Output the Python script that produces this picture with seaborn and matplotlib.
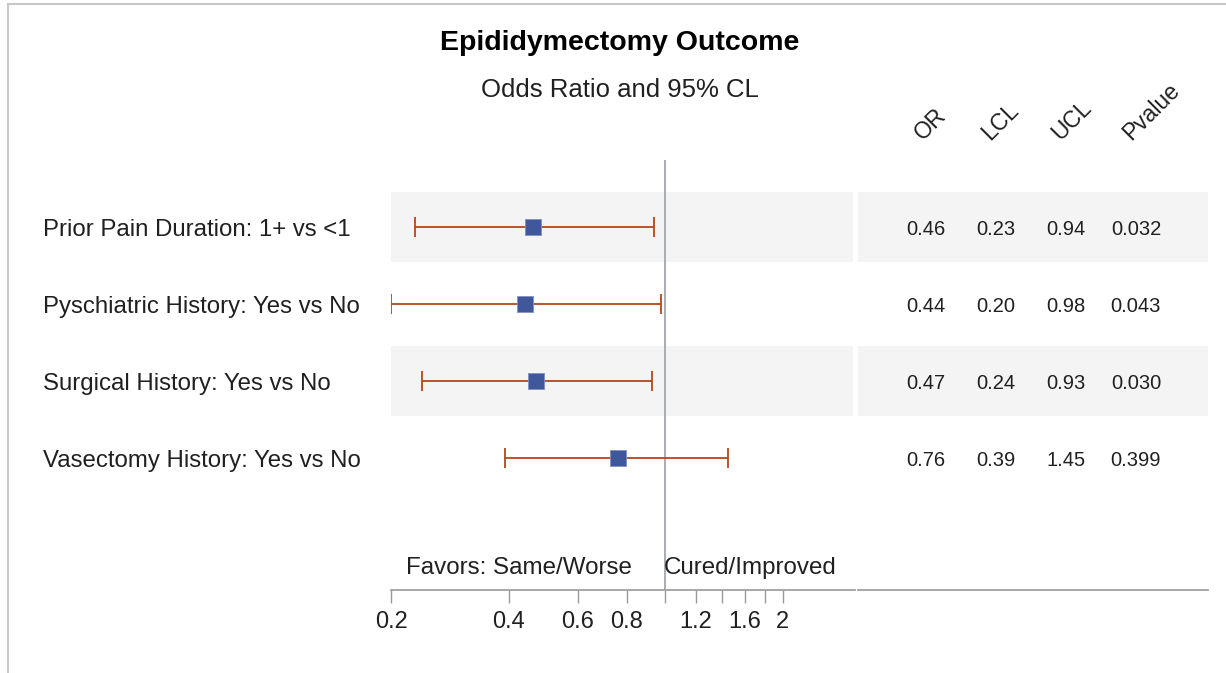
import numpy as np
import pandas as pd
import seaborn as sns
import matplotlib.pyplot as plt
from matplotlib.transforms import blended_transform_factory
from matplotlib.lines import Line2D

# data
labels = ["Prior Pain Duration: 1+ vs <1", "Pyschiatric History: Yes vs No",
          "Surgical History: Yes vs No", "Vasectomy History: Yes vs No"]
odds_ratio = [0.46, 0.44, 0.47, 0.76]
lcl = [0.23, 0.20, 0.24, 0.39]
ucl = [0.94, 0.98, 0.93, 1.45]
pvalue = [0.032, 0.043, 0.030, 0.399]
tick_values = [0.2, 0.4, 0.6, 0.8, 1.0, 1.2, 1.4, 1.6, 1.8, 2.0]
tick_labels = ["0.2", "0.4", "0.6", "0.8", "", "1.2", "", "1.6", "", "2"]
headers = ["OR", "LCL", "UCL", "Pvalue"]

df = pd.DataFrame({"label": labels, "OR": odds_ratio, "LCL": lcl, "UCL": ucl,
                   "Pvalue": pvalue, "row": np.arange(len(labels))})

sns.set_theme(style="white")
plt.rcParams["font.family"] = ["Liberation Sans", "DejaVu Sans"]
txt = "#202020"

W, H = 1226, 673
fig = plt.figure(figsize=(W / 100, H / 100), dpi=100)

def box(l, r, t, b):
    return [l / W, 1 - b / H, (r - l) / W, (b - t) / H]

ylim = (4.71, -0.87)
band = "#F4F4F4"

# ---- forest panel ----
ax = fig.add_axes(box(391, 855, 160, 590))
ax.set_xscale("log")
ax.set_xlim(0.2, 3.06)
ax.set_ylim(*ylim)
for r in df["row"][::2]:
    ax.axhspan(r - 0.455, r + 0.455, xmin=0, xmax=0.995, color=band, lw=0, zorder=0)
ax.axvline(1, color="#A3A6AA", lw=1.3, zorder=1)
ax.errorbar(df["OR"], df["row"], xerr=[df["OR"] - df["LCL"], df["UCL"] - df["OR"]],
            fmt="none", ecolor="#B4471A", elinewidth=1.3, capsize=7.5, capthick=1.3, zorder=2)
sns.scatterplot(data=df, x="OR", y="row", marker="s", s=135, color="#40579B",
                edgecolor="#8090C4", linewidth=0.6, ax=ax, zorder=3, legend=False)
ax.set_xticks(tick_values)
ax.set_xticklabels(tick_labels)
ax.xaxis.set_minor_locator(plt.NullLocator())
ax.tick_params(axis="x", length=9, width=1, color="#999999", labelsize=17,
               labelcolor=txt, bottom=True, pad=6)
ax.tick_params(axis="y", left=False, labelleft=False)
ax.set_xlabel("")
ax.set_ylabel("")
for s in ["top", "left", "right"]:
    ax.spines[s].set_visible(False)
ax.spines["bottom"].set_color("#A0A0A0")
ax.spines["bottom"].set_linewidth(1.3)
ax.patch.set_alpha(0)

# row labels
tr = blended_transform_factory(fig.transFigure, ax.transData)
for _, row in df.iterrows():
    ax.text(43 / W, row["row"], row["label"], transform=tr, ha="left",
            va="center_baseline", fontsize=17.3, color=txt, clip_on=False)

# favors
ax.annotate("Favors: Same/Worse", xy=(1, 4.42), xytext=(-24, 0), textcoords="offset points",
            ha="right", va="center", fontsize=17.4, color=txt)
ax.annotate("Cured/Improved", xy=(1, 4.42), xytext=(-1, 0), textcoords="offset points",
            ha="left", va="center", fontsize=17.4, color=txt)

# ---- table panel ----
tb = fig.add_axes(box(858, 1208, 160, 590))
tb.set_xlim(0, 1)
tb.set_ylim(*ylim)
for r in df["row"][::2]:
    tb.axhspan(r - 0.455, r + 0.455, color=band, lw=0, zorder=0)
col_x = [0.194, 0.394, 0.594, 0.794]
head_x = [0.186, 0.377, 0.577, 0.780]
for c, (h, cx, hx) in enumerate(zip(headers, col_x, head_x)):
    fmt = "{:.3f}" if h == "Pvalue" else "{:.2f}"
    for _, row in df.iterrows():
        tb.text(cx, row["row"], fmt.format(row[h]), ha="center", va="center_baseline",
                fontsize=14.5, color=txt)
    tb.text(hx, -1.12, h, rotation=45, rotation_mode="anchor", ha="left", va="baseline",
            fontsize=16.5, color=txt, clip_on=False)
tb.set_xticks([])
tb.set_yticks([])
for s in ["top", "left", "right"]:
    tb.spines[s].set_visible(False)
tb.spines["bottom"].set_color("#A0A0A0")
tb.spines["bottom"].set_linewidth(1.3)
tb.patch.set_alpha(0)

# titles
fig.text(620 / W, 1 - 43 / H, "Epididymectomy Outcome", ha="center", va="center",
         fontsize=20.5, fontweight="bold", color="black")
fig.text(620 / W, 1 - 90 / H, "Odds Ratio and 95% CL", ha="center", va="center",
         fontsize=18.5, color=txt)

# outer frame
fig.add_artist(Line2D([8 / W, 1], [1 - 4 / H, 1 - 4 / H], color="#C8C8C8", lw=1.5))
fig.add_artist(Line2D([8 / W, 8 / W], [0, 1 - 4 / H], color="#C8C8C8", lw=1.5))

fig.savefig("out.png", dpi=100)
